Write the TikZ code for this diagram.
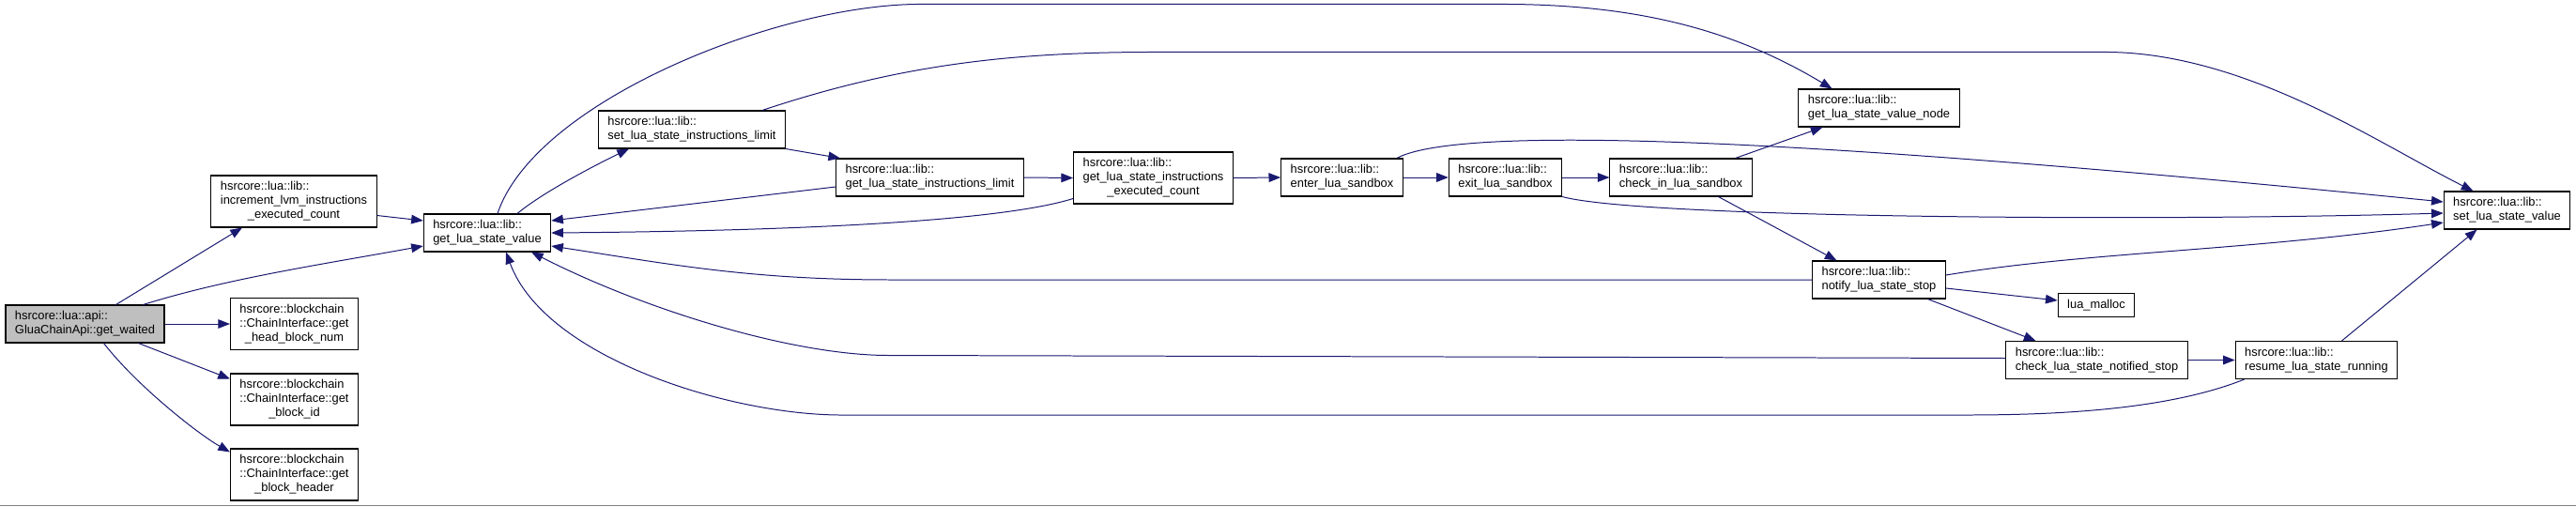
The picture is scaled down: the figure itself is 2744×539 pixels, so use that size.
\documentclass[tikz,border=0pt]{standalone}
\usepackage{fontspec}
\setmainfont{Liberation Sans}
\usetikzlibrary{arrows.meta, calc}
\definecolor{edgeblue}{RGB}{25, 25, 112}
\definecolor{rootgray}{RGB}{191, 191, 191}
\newcommand{\twol}[2]{\begin{tabular}{@{}l@{}}#1\\\multicolumn{1}{@{}c@{}}{#2}\end{tabular}}
\newcommand{\threel}[3]{\begin{tabular}{@{}l@{}}#1\\#2\\\multicolumn{1}{@{}c@{}}{#3}\end{tabular}}

\begin{document}
\begin{tikzpicture}[x=0.3mm, y=-0.3mm,
    >={Triangle[length=3.8mm, width=2.9mm]},
    fn/.style={
        draw=black, line width=0.9pt, fill=white, rectangle,
        inner xsep=3mm, inner ysep=1.5mm,
        font=\fontsize{11}{12.8}\selectfont
    },
    root/.style={fn, fill=rootgray},
    call/.style={->, edgeblue, line width=0.85pt},
]
\useasboundingbox (0,0) rectangle (2744,539);
\draw[gray, line width=0.8pt] (0,538) -- (2744,538);

% ================= nodes =================
\node[root] (waited) at (90.5,345) {\twol{hsrcore::lua::api::}{GluaChainApi::get\_waited}};
\node[fn] (incr) at (313,214.5) {\threel{hsrcore::lua::lib::}{increment\_lvm\_instructions}{\_executed\_count}};
\node[fn] (headnum) at (313.5,345) {\threel{hsrcore::blockchain}{::ChainInterface::get}{\_head\_block\_num}};
\node[fn] (blockid) at (313.5,425.5) {\threel{hsrcore::blockchain}{::ChainInterface::get}{\_block\_id}};
\node[fn] (blockhdr) at (313.5,505.5) {\threel{hsrcore::blockchain}{::ChainInterface::get}{\_block\_header}};

\node[fn] (getval) at (519,248) {\twol{hsrcore::lua::lib::}{get\_lua\_state\_value}};
\node[fn] (setlimit) at (737,138) {\twol{hsrcore::lua::lib::}{set\_lua\_state\_instructions\_limit}};
\node[fn] (getlimit) at (990.5,189) {\twol{hsrcore::lua::lib::}{get\_lua\_state\_instructions\_limit}};
\node[fn] (execcount) at (1228.5,189.5) {\threel{hsrcore::lua::lib::}{get\_lua\_state\_instructions}{\_executed\_count}};
\node[fn] (enter) at (1429.5,189) {\twol{hsrcore::lua::lib::}{enter\_lua\_sandbox}};
\node[fn] (exit) at (1603.5,189) {\twol{hsrcore::lua::lib::}{exit\_lua\_sandbox}};
\node[fn] (checkin) at (1790.5,189) {\twol{hsrcore::lua::lib::}{check\_in\_lua\_sandbox}};
\node[fn] (valnode) at (2001.5,115) {\twol{hsrcore::lua::lib::}{get\_lua\_state\_value\_node}};
\node[fn] (notify) at (2001.5,298) {\twol{hsrcore::lua::lib::}{notify\_lua\_state\_stop}};
\node[fn] (malloc) at (2233,325) {\begin{tabular}{@{}l@{}}lua\_malloc\end{tabular}};
\node[fn] (checknot) at (2233.5,383.5) {\twol{hsrcore::lua::lib::}{check\_lua\_state\_notified\_stop}};
\node[fn] (resume) at (2467.5,383.5) {\twol{hsrcore::lua::lib::}{resume\_lua\_state\_running}};
\node[fn] (setval) at (2670.5,224) {\twol{hsrcore::lua::lib::}{set\_lua\_state\_value}};

% ================= calls from get_waited =================
\draw[call] ($(waited.north)+(33,0)$) -- ($(incr.south)+(-55,0)$);
\draw[call] ($(waited.north)+(62,0)$) .. controls +(90,-28) and +(-110,20) .. ($(getval.west)+(0,14)$);
\draw[call] (waited.east) -- (headnum.west);
\draw[call] ($(waited.south)+(57,0)$) -- ($(blockid.west)+(0,-22)$);
\draw[call] ($(waited.south)+(20,0)$) .. controls +(35,45) and +(-35,-20) .. ($(blockhdr.west)+(0,-24)$);

% ================= into get_lua_state_value =================
\draw[call] ($(incr.east)+(0,15)$) -- ($(getval.west)+(0,-13)$);
\draw[call] ($(getlimit.west)+(0,10)$) -- ($(getval.east)+(0,-13)$);
\draw[call] ($(execcount.west)+(0,22)$) .. controls +(-80,25) and +(250,-2) .. (getval.east);
\draw[call] (notify.west) -- ++(-980,0) .. controls +(-150,0) and +(130,20) .. ($(getval.east)+(0,14)$);
\draw[call] ($(checknot.west)+(0,-2)$) -- ++(-1190,-3) .. controls +(-100,0) and +(124,63) .. ($(getval.south)+(47,0)$);
\draw[call] ($(resume.south west)+(10,0)$) .. controls +(-90,36) and +(80,0) .. ++(-304,38)
    -- ++(-1190,0) .. controls +(-120,0) and +(41,112) .. ($(getval.south)+(20,0)$);

% ================= from get_lua_state_value =================
\draw[call] ($(getval.north)+(32,0)$) .. controls +(30,-25) and +(-25,12) .. ($(setlimit.south)+(-67,0)$);
\draw[call] ($(getval.north)+(11,0)$) .. controls +(40,-120) and +(-150,0) .. ++(450,-223)
    -- ++(620,0) .. controls +(150,0) and +(-100,-60) .. ($(valnode.north)+(-50,0)$);

% ================= chain =================
\draw[call] (setlimit.south east) -- ($(getlimit.north west)+(5,0)$);
\draw[call] ($(setlimit.north)+(75,0)$) .. controls +(150,-50) and +(-150,0) .. ++(420,-62)
    -- ++(1010,0) .. controls +(150,0) and +(-100,-50) .. ($(setval.north)+(-36,0)$);
\draw[call] (getlimit.east) -- (execcount.west);
\draw[call] (execcount.east) -- (enter.west);
\draw[call] (enter.east) -- (exit.west);
\draw[call] (exit.east) -- (checkin.west);
\draw[call] ($(checkin.north)+(58,0)$) -- ($(valnode.south)+(-60,0)$);
\draw[call] ($(checkin.south)+(40,0)$) -- ($(notify.north)+(-45,0)$);

% ================= into set_lua_state_value =================
\draw[call] ($(enter.north east)+(-7,0)$) .. controls +(92,-49) and +(-402,-40) .. ($(setval.west)+(0,-9)$);
\draw[call] (exit.south east) .. controls +(85,23) and +(-300,9) .. ($(setval.west)+(0,3)$);
\draw[call] ($(notify.east)+(0,-5)$) .. controls +(150,-25) and +(-200,30) .. ($(setval.west)+(0,13)$);
\draw[call] ($(resume.north)+(27,0)$) -- ($(setval.south)+(-32,0)$);

% ================= notify_lua_state_stop =================
\draw[call] ($(notify.east)+(0,9)$) -- ($(malloc.west)+(0,-5)$);
\draw[call] ($(notify.south)+(52,0)$) -- ($(checknot.north)+(-65,0)$);
\draw[call] (checknot.east) -- (resume.west);

\end{tikzpicture}
\end{document}
